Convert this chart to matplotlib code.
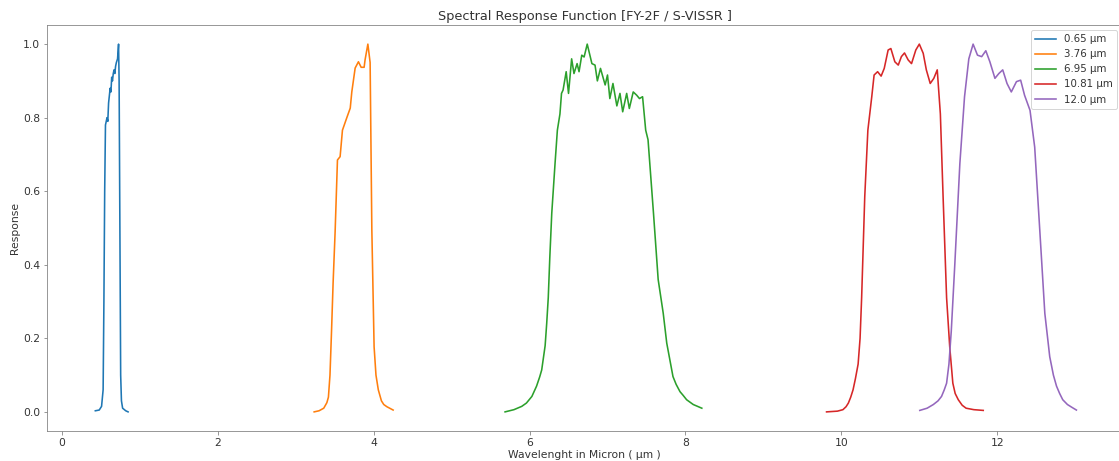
import matplotlib
matplotlib.use("Agg")
import matplotlib.pyplot as plt

# channel labels
labels = ["0.65 µm", "3.76 µm", "6.95 µm", "10.81 µm", "12.0 µm"]

# values
vis_x = [0.43, 0.48, 0.51, 0.53, 0.54, 0.55, 0.56, 0.57, 0.58, 0.59, 0.60, 0.61,
         0.62, 0.63, 0.64, 0.65, 0.66, 0.67, 0.68, 0.69, 0.70, 0.715, 0.728,
         0.735, 0.745, 0.755, 0.765, 0.78, 0.82, 0.85]
vis_y = [0.003, 0.005, 0.015, 0.06, 0.3, 0.6, 0.78, 0.79, 0.80, 0.79, 0.84, 0.86,
         0.88, 0.87, 0.91, 0.90, 0.92, 0.93, 0.92, 0.94, 0.95, 0.96, 1.0,
         0.9, 0.5, 0.1, 0.03, 0.01, 0.003, 0.0]

mwir_x = [3.237, 3.30, 3.36, 3.40, 3.42, 3.44, 3.46, 3.48, 3.506, 3.536, 3.57,
          3.60, 3.656, 3.70, 3.72, 3.763, 3.805, 3.84, 3.878, 3.89, 3.926, 3.955,
          3.977, 4.006, 4.03, 4.06, 4.10, 4.13, 4.17, 4.25]
mwir_y = [0.0, 0.003, 0.01, 0.025, 0.04, 0.1, 0.22, 0.35, 0.49, 0.685, 0.694,
          0.766, 0.80, 0.826, 0.87, 0.935, 0.952, 0.937, 0.937, 0.957, 1.0, 0.95,
          0.495, 0.177, 0.1, 0.06, 0.03, 0.02, 0.014, 0.005]

wv_x = [5.686, 5.80, 5.90, 5.96, 6.03, 6.09, 6.13, 6.156, 6.20, 6.22, 6.24, 6.26,
        6.285, 6.327, 6.357, 6.39, 6.41, 6.43, 6.47, 6.50, 6.54, 6.57, 6.61,
        6.635, 6.67, 6.70, 6.74, 6.80, 6.84, 6.87, 6.91, 6.97, 7.00, 7.03, 7.07,
        7.12, 7.16, 7.195, 7.246, 7.28, 7.33, 7.375, 7.41, 7.45, 7.49, 7.52, 7.59,
        7.65, 7.715, 7.76, 7.84, 7.88, 7.93, 7.97, 8.015, 8.10, 8.21]
wv_y = [0.0, 0.006, 0.015, 0.024, 0.042, 0.07, 0.095, 0.114, 0.18, 0.24, 0.31, 0.42,
        0.54, 0.675, 0.766, 0.81, 0.866, 0.875, 0.925, 0.866, 0.96, 0.92, 0.947,
        0.925, 0.97, 0.965, 1.0, 0.947, 0.943, 0.90, 0.934, 0.889, 0.916, 0.852, 0.893,
        0.832, 0.866, 0.816, 0.866, 0.825, 0.87, 0.861, 0.852, 0.857, 0.766, 0.74, 0.54,
        0.36, 0.268, 0.187, 0.096, 0.075, 0.055, 0.045, 0.033, 0.02, 0.01]

ir1_x = [9.81, 9.95, 10.02, 10.06, 10.09, 10.12, 10.15, 10.18, 10.215, 10.24,
         10.26, 10.30, 10.34, 10.39, 10.42, 10.465, 10.51, 10.55, 10.60, 10.635,
         10.686, 10.73, 10.77, 10.81, 10.857, 10.90, 10.955, 11.0, 11.05, 11.09,
         11.14, 11.186, 11.23, 11.27, 11.305, 11.35, 11.39, 11.43, 11.46, 11.5,
         11.55, 11.6, 11.7, 11.82]
ir1_y = [0.0, 0.002, 0.006, 0.014, 0.024, 0.04, 0.06, 0.09, 0.13, 0.2,
         0.31, 0.585, 0.766, 0.857, 0.916, 0.925, 0.913, 0.934, 0.984, 0.988,
         0.952, 0.943, 0.966, 0.976, 0.957, 0.947, 0.984, 1.0, 0.975, 0.93,
         0.893, 0.907, 0.93, 0.81, 0.585, 0.31, 0.177, 0.078, 0.05, 0.033,
         0.018, 0.01, 0.006, 0.004]

ir2_x = [11.006, 11.10, 11.18, 11.24, 11.285, 11.32, 11.35, 11.38, 11.41, 11.455,
         11.52, 11.58, 11.635, 11.69, 11.746, 11.80, 11.853, 11.905, 11.97, 12.02,
         12.07, 12.125, 12.18, 12.246, 12.30, 12.35, 12.42, 12.48, 12.545, 12.61,
         12.673, 12.72, 12.76, 12.80, 12.84, 12.90, 12.96, 13.015]
ir2_y = [0.004, 0.01, 0.02, 0.03, 0.042, 0.06, 0.078, 0.13, 0.22, 0.40,
         0.675, 0.857, 0.96, 1.0, 0.97, 0.966, 0.982, 0.952, 0.907, 0.92,
         0.93, 0.893, 0.87, 0.898, 0.902, 0.861, 0.82, 0.72, 0.495, 0.268,
         0.15, 0.1, 0.07, 0.05, 0.033, 0.02, 0.012, 0.005]

series = [(vis_x, vis_y), (mwir_x, mwir_y), (wv_x, wv_y), (ir1_x, ir1_y), (ir2_x, ir2_y)]

plt.rcParams.update({
    "font.size": 10.7,
    "axes.titlesize": 12.9,
    "legend.fontsize": 10.2,
    "text.color": "0.2",
    "axes.labelcolor": "0.2",
    "axes.edgecolor": "0.5",
    "xtick.color": "0.5",
    "ytick.color": "0.5",
    "xtick.labelcolor": "0.2",
    "ytick.labelcolor": "0.2",
    "lines.linewidth": 1.6,
})

fig = plt.figure(figsize=(1119 / 72, 461 / 72), dpi=72)
# right part of the axes runs slightly past the picture edge, as in the reference
ax = fig.add_axes([47 / 1119, 1 - 431 / 461, 1075 / 1119, 406 / 461])

for (xs, ys), lab in zip(series, labels):
    ax.plot(xs, ys, label=lab)

ax.set_xlim(-0.19, 13.6)
ax.set_ylim(-0.052, 1.052)
ax.set_title("Spectral Response Function [FY-2F / S-VISSR ]", pad=5)
ax.set_xlabel("Wavelenght in Micron ( µm )", labelpad=2)
ax.set_ylabel("Response", labelpad=3)
ax.legend(loc="upper right")

fig.savefig("out.png", dpi=72)
